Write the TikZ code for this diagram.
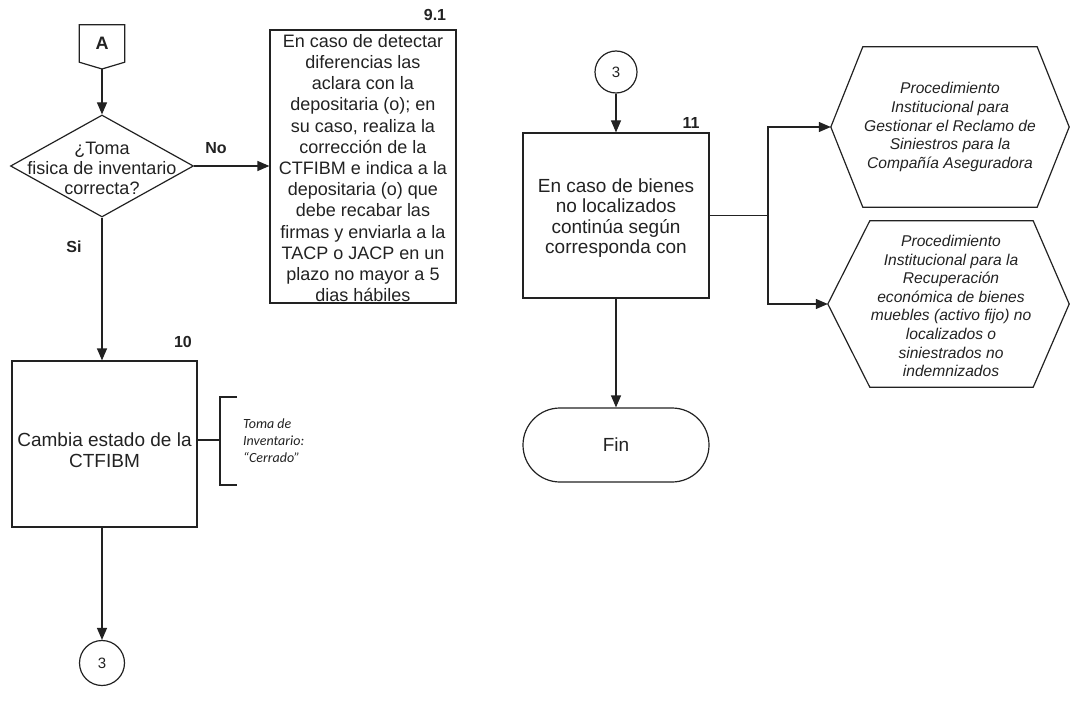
\documentclass[tikz,border=0pt]{standalone}
\usepackage{fontspec}
\setmainfont{Liberation Sans}
\newfontfamily\carl{Carlito}
\usetikzlibrary{arrows.meta,shapes.geometric}
\definecolor{ink}{HTML}{222222}
\begin{document}
\begin{tikzpicture}[x=1pt,y=-1pt,
  line/.style={draw=ink, line width=1.2pt},
  arr/.style={line, -{Triangle[length=12pt,width=10pt]}},
  shp/.style={draw=ink, line width=1.2pt},
  body/.style={text=ink, align=center, inner sep=0pt, font=\fontsize{18}{21.2}\selectfont},
  body19/.style={text=ink, align=center, inner sep=0pt, font=\fontsize{19}{20.5}\selectfont},
  hext/.style={text=ink, align=center, inner sep=0pt, font=\fontsize{15.6}{18.8}\selectfont\itshape},
  lbl/.style={text=ink, inner sep=0pt, font=\fontsize{16}{16}\selectfont\bfseries},
  note/.style={text=ink, align=left, inner sep=0pt, font=\fontsize{14}{17}\selectfont\carl\itshape},
  conn/.style={shp, circle, inner sep=0pt, text=ink, font=\fontsize{15}{15}\selectfont},
  box/.style={shp, rectangle, inner sep=0pt}
]
\useasboundingbox (0,0) rectangle (1070,703);

% Off-page connector A
\node[inner sep=0pt, minimum width=45pt, minimum height=37pt, text=ink, font=\fontsize{18}{18}\selectfont\bfseries] (A) at (102,43.5) {A};
\coordinate (Atip) at (102,69);
\draw[shp] (A.north west) -- (A.north east) -- (A.south east) -- (Atip) -- (A.south west) -- cycle;

% Decision
\node[shp, diamond, minimum width=183pt, minimum height=102pt, inner sep=0pt] (d) at (102,166) {};
\node[body, font=\fontsize{18}{20}\selectfont] (dt) at (102,168) {¿Toma\\fisica de inventario\\correcta?};
\draw[arr] (Atip) -- (d.north);

% Box 9.1
\node[box, minimum width=186pt, minimum height=273pt] (b91) at (363,166.5) {};
\node[body] (b91t) at (363,168) {En caso de detectar\\diferencias las\\aclara con la\\depositaria (o); en\\su caso, realiza la\\corrección de la\\CTFIBM e indica a la\\depositaria (o) que\\debe recabar las\\firmas y enviarla a la\\TACP o JACP en un\\plazo no mayor a 5\\dias hábiles};
\node[lbl] (l91) at (435,15) {9.1};
\draw[arr] (d.east) -- (d.east -| b91.west);
\node[lbl] (no) at (216,148) {No};

% Box 10
\node[box, minimum width=185pt, minimum height=166pt] (b10) at (104.5,444) {};
\node[body19] (b10t) at (104.5,450) {Cambia estado de la\\CTFIBM};
\node[lbl] (l10) at (183,342) {10};
\draw[arr] (d.south) -- (d.south |- b10.north);
\node[lbl] (si) at (74,247) {Si};

% Bracket annotation
\coordinate (bm) at (220,440);
\coordinate (bt) at (220,397);
\coordinate (bb) at (220,485);
\coordinate (btr) at (237,397);
\coordinate (bbr) at (237,485);
\draw[line] (b10.east |- bm) -- (bm);
\draw[line] (btr) -- (bt) -- (bb) -- (bbr);
\node[note, anchor=west] (nt) at (243,441) {Toma de\\Inventario:\\“Cerrado”};

% Connector 3 (bottom left)
\node[conn, minimum size=45pt] (c3a) at (102,663) {3};
\draw[arr] (d.south |- b10.south) -- (c3a.north);

% Connector 3 (top right)
\node[conn, minimum size=42pt] (c3b) at (616,72) {3};

% Box 11
\node[box, minimum width=186pt, minimum height=165pt] (b11) at (616,215.5) {};
\node[body19] (b11t) at (616,218) {En caso de bienes\\no localizados\\continúa según\\corresponda con};
\node[lbl] (l11) at (691,123) {11};
\draw[arr] (c3b.south) -- (b11.north);

% Fin
\node[shp, rectangle, rounded corners=37pt, minimum width=186pt, minimum height=74pt, text=ink, font=\fontsize{19}{19}\selectfont] (fin) at (616,445) {Fin};
\draw[arr] (b11.south) -- (fin.north);

% Hexagons
\node[inner sep=0pt, minimum width=238pt, minimum height=160pt] (h1) at (950,127) {};
\draw[shp] (h1.west) -- ([xshift=32pt]h1.north west) -- ([xshift=-32pt]h1.north east) -- (h1.east) -- ([xshift=-32pt]h1.south east) -- ([xshift=32pt]h1.south west) -- cycle;
\node[hext] (h1t) at (950,127) {Procedimiento\\Institucional para\\Gestionar el Reclamo de\\Siniestros para la\\Compañía Aseguradora};

\node[inner sep=0pt, minimum width=241pt, minimum height=166pt] (h2) at (948.5,304) {};
\draw[shp] (h2.west) -- ([xshift=42pt]h2.north west) -- ([xshift=-36pt]h2.north east) -- (h2.east) -- ([xshift=-36pt]h2.south east) -- ([xshift=42pt]h2.south west) -- cycle;
\node[hext, font=\fontsize{15.6}{18.6}\selectfont\itshape] (h2t) at (951,306) {Procedimiento\\Institucional para la\\Recuperación\\económica de bienes\\muebles (activo fijo) no\\localizados o\\siniestrados no\\indemnizados};

% Split connector
\coordinate (sp) at (768,215.5);
\draw[line] (b11.east) -- (sp);
\draw[arr] (sp) |- (h1.west);
\draw[arr] (sp) |- (h2.west);
\end{tikzpicture}
\end{document}
